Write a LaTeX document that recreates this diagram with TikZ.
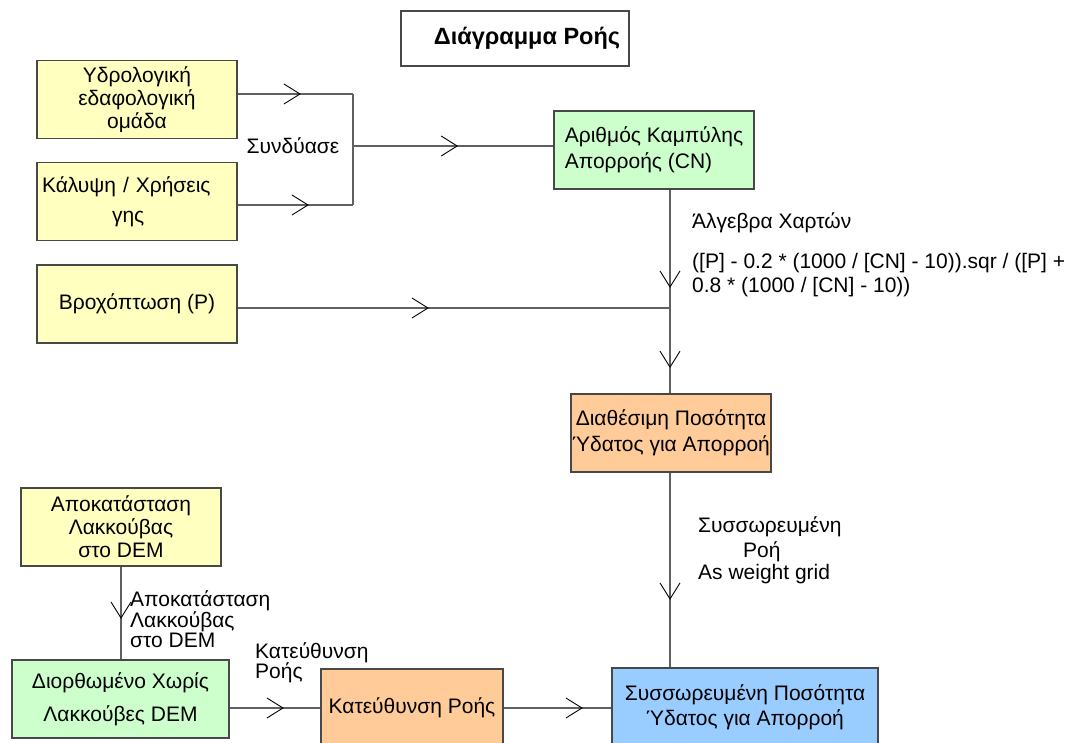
\documentclass[tikz,border=0pt]{standalone}
\usepackage{fontspec}
\setmainfont{Liberation Sans}
\usetikzlibrary{arrows.meta,decorations.markings}
\definecolor{boxyellow}{HTML}{FFFFC0}
\definecolor{boxgreen}{HTML}{CCFFCC}
\definecolor{boxorange}{HTML}{FFCC99}
\definecolor{boxblue}{HTML}{99CCFF}
\definecolor{edgegray}{HTML}{484848}
\definecolor{linegray}{HTML}{606060}
\tikzset{
  base/.style={font=\fontsize{21}{23}\selectfont},
  box/.style={base, draw=edgegray, line width=1.6pt, minimum width=200pt,
    minimum height=78pt, inner sep=0pt, align=center},
  lbl/.style={base, inner sep=0pt, align=left},
  conn/.style={draw=linegray, line width=1.3pt},
  midarrow/.style={postaction={decorate}, decoration={markings,
    mark=at position #1 with {\arrow[black,line width=0.9pt]{Straight Barb[length=16pt,width=20pt]}}}},
}
\begin{document}
\begin{tikzpicture}[x=1pt,y=-1pt]
\useasboundingbox (0,0) rectangle (1081,743);
\fill[white] (0,0) rectangle (1081,743);
\clip (0,0) rectangle (1081,743);

% title
\node[draw=edgegray, line width=1.1pt, minimum width=228pt, minimum height=55pt,
  inner sep=0pt, align=center, font=\fontsize{23.5}{26}\selectfont\bfseries] (title) at (515,38.5)
  {\hspace*{24pt}Διάγραμμα Ροής};

% boxes
\node[box, fill=boxyellow] (hydro) at (137,99.5) {Υδρολογική\\εδαφολογική\\ομάδα};
\node[box, fill=boxyellow, text width=190pt, inner xsep=5pt, align=left] (land) at (137,201.5)
  {Κάλυψη / Χρήσεις\\[7pt]\hspace*{70pt}γης};
\node[box, fill=boxyellow] (rain) at (137,304) {Βροχόπτωση (P)};
\node[box, fill=boxgreen, align=left] (cn) at (654,150) {Αριθμός Καμπύλης\\[3pt]Απορροής (CN)};
\node[box, fill=boxorange] (avail) at (671,433) {Διαθέσιμη Ποσότητα\\[3pt]Ύδατος για Απορροή};
\node[box, fill=boxblue, minimum width=266pt] (acc) at (745,707) {Συσσωρευμένη Ποσότητα\\[2pt]Ύδατος για Απορροή};
\node[box, fill=boxyellow] (fill) at (121,527) {Αποκατάσταση\\Λακκούβας\\στο DEM};
\node[box, fill=boxgreen, minimum width=217pt] (green) at (120.5,699) {Διορθωμένο Χωρίς\\[10pt]Λακκούβες DEM};
\node[box, fill=boxorange, minimum width=182pt] (dirbox) at (412,708) {Κατεύθυνση Ροής};

% labels
\node[lbl] (combine) at (293,146) {Συνδύασε};
\node[lbl, anchor=west] (alg) at (692,223) {Άλγεβρα Χαρτών};
\node[lbl, anchor=west] (formula) at (692,275)
  {([P] - 0.2 * (1000 / [CN] - 10)).sqr / ([P] +\\[1pt]0.8 * (1000 / [CN] - 10))};
\node[lbl, anchor=west] (acclbl) at (698,550)
  {Συσσωρευμένη\\[2pt]\hspace*{45pt}Ροή\\[-1pt]As weight grid};
\node[lbl, anchor=west] (filllbl) at (130,619.5)
  {Αποκατάσταση\\[-2.5pt]Λακκούβας\\[-2.5pt]στο DEM};
\node[lbl, anchor=west] (dirlbl) at (255,663) {Κατεύθυνση\\[-3pt]Ροής};

% junctions
\coordinate (jA) at (353,94);
\coordinate (jB) at (353,205);
\coordinate (jC) at (353,146);
\coordinate (jD) at (670,308);

% connectors
\draw[conn, midarrow=63pt] (hydro.east |- jA) -- (jA);
\draw[conn, midarrow=71pt] (land.east |- jB) -- (jB);
\draw[conn] (jA) -- (jB);
\draw[conn, midarrow=105pt] (jC) -- (cn.west |- jC);
\draw[conn, midarrow=98pt] (cn.south -| jD) -- (jD);
\draw[conn, midarrow=191pt] (rain.east |- jD) -- (jD);
\draw[conn, midarrow=60pt] (jD) -- (avail.north -| jD);
\draw[conn, midarrow=127pt] (avail.south -| jD) -- (acc.north -| jD);
\draw[conn, midarrow=52pt] (fill.south) -- (fill.south |- green.north);
\draw[conn, midarrow=54pt] (green.east |- dirbox.west) -- (dirbox.west);
\draw[conn, midarrow=79pt] (dirbox.east) -- (acc.west |- dirbox.east);
\end{tikzpicture}
\end{document}
